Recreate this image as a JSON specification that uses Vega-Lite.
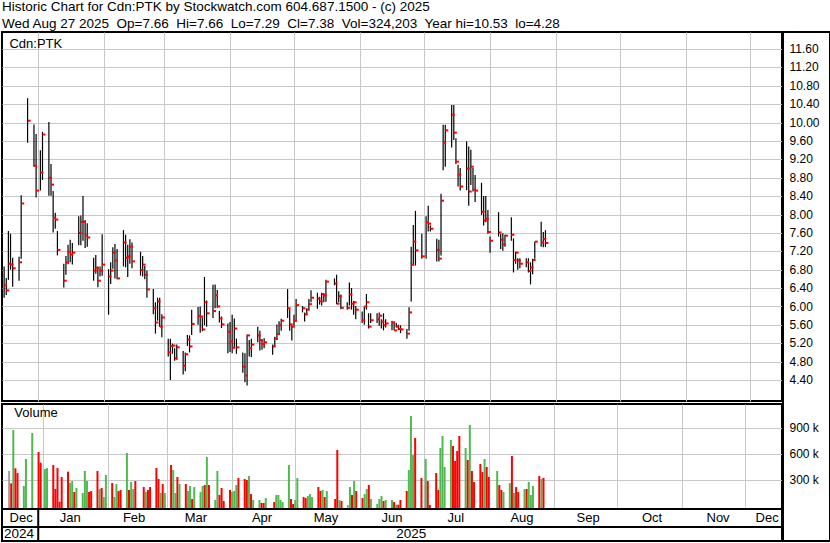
{
"$schema": "https://vega.github.io/schema/vega-lite/v6.json",
"padding": {"left": 1, "top": 0, "right": 0, "bottom": 0},
"background": "white",
"title": {"text": ["Historic Chart for Cdn:PTK by Stockwatch.com 604.687.1500 - (c) 2025", "Wed Aug 27 2025\u00a0 Op=7.66\u00a0 Hi=7.66\u00a0 Lo=7.29\u00a0 Cl=7.38\u00a0 Vol=324,203\u00a0 Year hi=10.53\u00a0 lo=4.28"], "anchor": "start", "frame": "group", "font": "Liberation Sans", "fontSize": 13.5, "fontWeight": "normal", "color": "black", "lineHeight": 16.5, "offset": 2, "dy": 1},
"config": {"view": {"stroke": "black", "strokeWidth": 2}, "text": {"font": "Liberation Sans"}, "axis": {"labelFont": "Liberation Sans"}},
"datasets": {
"one": [{}],
"plab": [{"p":4.4},{"p":4.8},{"p":5.2},{"p":5.6},{"p":6.0},{"p":6.4},{"p":6.8},{"p":7.2},{"p":7.6},{"p":8.0},{"p":8.4},{"p":8.8},{"p":9.2},{"p":9.6},{"p":10.0},{"p":10.4},{"p":10.8},{"p":11.2},{"p":11.6}],
"vlab": [{"v":300000,"lab":"300 k"},{"v":600000,"lab":"600 k"},{"v":900000,"lab":"900 k"}],
"months": [{"m":"Dec","mid":"2024-12-24"},{"m":"Jan","mid":"2025-01-16"},{"m":"Feb","mid":"2025-02-15"},{"m":"Mar","mid":"2025-03-16"},{"m":"Apr","mid":"2025-04-16"},{"m":"May","mid":"2025-05-16"},{"m":"Jun","mid":"2025-06-16"},{"m":"Jul","mid":"2025-07-16"},{"m":"Aug","mid":"2025-08-16"},{"m":"Sep","mid":"2025-09-16"},{"m":"Oct","mid":"2025-10-16"},{"m":"Nov","mid":"2025-11-16"},{"m":"Dec","mid":"2025-12-09"}],
"years": [{"yr":"2024","mid":"2024-12-23"},{"yr":"2025","mid":"2025-06-25"}],
"px": [
{"d":"2024-12-16","h":6.87,"l":6.19,"c":6.46,"v":404000,"dir":"flat"},
{"d":"2024-12-17","h":6.62,"l":6.25,"c":6.35,"v":262000,"dir":"down"},
{"d":"2024-12-18","h":7.64,"l":6.58,"c":6.93,"v":877000,"dir":"up"},
{"d":"2024-12-19","h":7.58,"l":6.80,"c":6.91,"v":435000,"dir":"down"},
{"d":"2024-12-20","h":7.06,"l":6.43,"c":6.83,"v":381000,"dir":"down"},
{"d":"2024-12-23","h":7.08,"l":6.56,"c":6.96,"v":231000,"dir":"up"},
{"d":"2024-12-24","h":8.42,"l":7.04,"c":8.24,"v":542000,"dir":"up"},
{"d":"2024-12-27","h":10.53,"l":9.56,"c":10.04,"v":842000,"dir":"up"},
{"d":"2024-12-30","h":9.96,"l":9.04,"c":9.06,"v":623000,"dir":"down"},
{"d":"2024-12-31","h":9.75,"l":8.37,"c":8.52,"v":500000,"dir":"down"},
{"d":"2025-01-02","h":9.40,"l":8.52,"c":8.91,"v":427000,"dir":"up"},
{"d":"2025-01-03","h":9.80,"l":8.75,"c":9.74,"v":438000,"dir":"up"},
{"d":"2025-01-06","h":10.01,"l":8.41,"c":8.80,"v":473000,"dir":"down"},
{"d":"2025-01-07","h":9.10,"l":8.41,"c":8.65,"v":196000,"dir":"down"},
{"d":"2025-01-08","h":8.51,"l":7.61,"c":7.93,"v":438000,"dir":"down"},
{"d":"2025-01-09","h":8.04,"l":7.69,"c":7.89,"v":50000,"dir":"down"},
{"d":"2025-01-10","h":7.64,"l":7.11,"c":7.23,"v":335000,"dir":"down"},
{"d":"2025-01-13","h":6.93,"l":6.41,"c":6.56,"v":396000,"dir":"down"},
{"d":"2025-01-14","h":7.10,"l":6.69,"c":6.96,"v":265000,"dir":"up"},
{"d":"2025-01-15","h":7.34,"l":6.92,"c":7.19,"v":288000,"dir":"up"},
{"d":"2025-01-16","h":7.45,"l":6.96,"c":7.13,"v":162000,"dir":"down"},
{"d":"2025-01-17","h":7.38,"l":6.91,"c":7.17,"v":208000,"dir":"up"},
{"d":"2025-01-20","h":7.96,"l":7.33,"c":7.60,"v":150000,"dir":"up"},
{"d":"2025-01-21","h":7.98,"l":7.33,"c":7.84,"v":404000,"dir":"up"},
{"d":"2025-01-22","h":8.40,"l":7.43,"c":7.84,"v":288000,"dir":"up"},
{"d":"2025-01-23","h":7.88,"l":7.27,"c":7.54,"v":162000,"dir":"down"},
{"d":"2025-01-24","h":7.81,"l":7.30,"c":7.50,"v":173000,"dir":"down"},
{"d":"2025-01-27","h":7.06,"l":6.56,"c":6.78,"v":404000,"dir":"down"},
{"d":"2025-01-28","h":7.12,"l":6.71,"c":6.84,"v":196000,"dir":"up"},
{"d":"2025-01-29","h":6.87,"l":6.42,"c":6.56,"v":208000,"dir":"down"},
{"d":"2025-01-30","h":6.87,"l":6.65,"c":6.78,"v":104000,"dir":"up"},
{"d":"2025-01-31","h":7.57,"l":6.67,"c":6.91,"v":358000,"dir":"up"},
{"d":"2025-02-03","h":6.81,"l":5.82,"c":6.65,"v":265000,"dir":"down"},
{"d":"2025-02-04","h":6.96,"l":6.49,"c":6.78,"v":104000,"dir":"up"},
{"d":"2025-02-05","h":7.29,"l":6.82,"c":7.17,"v":254000,"dir":"up"},
{"d":"2025-02-06","h":7.36,"l":6.61,"c":7.00,"v":173000,"dir":"down"},
{"d":"2025-02-07","h":7.25,"l":6.59,"c":6.61,"v":185000,"dir":"down"},
{"d":"2025-02-10","h":7.66,"l":6.87,"c":7.39,"v":611000,"dir":"up"},
{"d":"2025-02-11","h":7.56,"l":6.85,"c":7.06,"v":185000,"dir":"down"},
{"d":"2025-02-12","h":7.34,"l":6.64,"c":7.09,"v":277000,"dir":"up"},
{"d":"2025-02-13","h":7.46,"l":6.93,"c":7.30,"v":196000,"dir":"up"},
{"d":"2025-02-14","h":7.39,"l":6.83,"c":6.98,"v":288000,"dir":"down"},
{"d":"2025-02-18","h":7.19,"l":6.67,"c":6.79,"v":219000,"dir":"down"},
{"d":"2025-02-19","h":7.10,"l":6.65,"c":6.91,"v":162000,"dir":"up"},
{"d":"2025-02-20","h":6.88,"l":6.59,"c":6.69,"v":185000,"dir":"down"},
{"d":"2025-02-21","h":6.78,"l":6.19,"c":6.37,"v":219000,"dir":"down"},
{"d":"2025-02-24","h":6.38,"l":5.83,"c":5.96,"v":438000,"dir":"down"},
{"d":"2025-02-25","h":6.09,"l":5.41,"c":5.65,"v":312000,"dir":"down"},
{"d":"2025-02-26","h":6.19,"l":5.69,"c":6.11,"v":150000,"dir":"up"},
{"d":"2025-02-27","h":6.19,"l":5.56,"c":5.56,"v":254000,"dir":"down"},
{"d":"2025-02-28","h":5.83,"l":5.33,"c":5.76,"v":150000,"dir":"up"},
{"d":"2025-03-03","h":5.30,"l":4.91,"c":5.00,"v":473000,"dir":"down"},
{"d":"2025-03-04","h":5.30,"l":4.40,"c":5.14,"v":415000,"dir":"up"},
{"d":"2025-03-05","h":5.19,"l":4.97,"c":5.15,"v":150000,"dir":"up"},
{"d":"2025-03-06","h":5.09,"l":4.82,"c":4.87,"v":335000,"dir":"down"},
{"d":"2025-03-07","h":5.17,"l":4.84,"c":5.11,"v":254000,"dir":"up"},
{"d":"2025-03-10","h":5.03,"l":4.52,"c":4.71,"v":254000,"dir":"down"},
{"d":"2025-03-11","h":5.00,"l":4.59,"c":4.96,"v":173000,"dir":"up"},
{"d":"2025-03-12","h":5.38,"l":5.14,"c":5.28,"v":231000,"dir":"up"},
{"d":"2025-03-13","h":5.37,"l":5.00,"c":5.13,"v":81000,"dir":"down"},
{"d":"2025-03-14","h":5.93,"l":5.38,"c":5.62,"v":219000,"dir":"up"},
{"d":"2025-03-17","h":5.99,"l":5.60,"c":5.79,"v":162000,"dir":"up"},
{"d":"2025-03-18","h":6.00,"l":5.43,"c":5.78,"v":231000,"dir":"up"},
{"d":"2025-03-19","h":5.76,"l":5.46,"c":5.50,"v":242000,"dir":"down"},
{"d":"2025-03-20","h":6.64,"l":5.59,"c":6.09,"v":565000,"dir":"up"},
{"d":"2025-03-21","h":6.13,"l":5.56,"c":5.85,"v":242000,"dir":"down"},
{"d":"2025-03-24","h":6.47,"l":5.75,"c":5.90,"v":69000,"dir":"up"},
{"d":"2025-03-25","h":6.48,"l":5.96,"c":6.24,"v":404000,"dir":"up"},
{"d":"2025-03-26","h":6.36,"l":5.97,"c":6.00,"v":127000,"dir":"down"},
{"d":"2025-03-27","h":5.90,"l":5.65,"c":5.74,"v":208000,"dir":"down"},
{"d":"2025-03-28","h":5.78,"l":5.53,"c":5.61,"v":58000,"dir":"down"},
{"d":"2025-03-31","h":5.63,"l":4.98,"c":5.45,"v":185000,"dir":"down"},
{"d":"2025-04-01","h":5.66,"l":5.01,"c":5.24,"v":162000,"dir":"up"},
{"d":"2025-04-02","h":5.82,"l":4.98,"c":5.10,"v":173000,"dir":"up"},
{"d":"2025-04-03","h":5.74,"l":5.11,"c":5.52,"v":242000,"dir":"up"},
{"d":"2025-04-04","h":5.30,"l":4.97,"c":5.11,"v":323000,"dir":"down"},
{"d":"2025-04-07","h":5.00,"l":4.56,"c":4.69,"v":312000,"dir":"down"},
{"d":"2025-04-08","h":4.98,"l":4.35,"c":4.50,"v":300000,"dir":"down"},
{"d":"2025-04-09","h":5.39,"l":4.28,"c":5.37,"v":346000,"dir":"up"},
{"d":"2025-04-10","h":5.27,"l":4.91,"c":5.09,"v":138000,"dir":"down"},
{"d":"2025-04-11","h":5.30,"l":4.90,"c":5.17,"v":69000,"dir":"up"},
{"d":"2025-04-14","h":5.56,"l":5.22,"c":5.37,"v":69000,"dir":"up"},
{"d":"2025-04-15","h":5.47,"l":5.04,"c":5.27,"v":35000,"dir":"down"},
{"d":"2025-04-16","h":5.27,"l":5.06,"c":5.18,"v":35000,"dir":"down"},
{"d":"2025-04-17","h":5.31,"l":5.09,"c":5.22,"v":92000,"dir":"up"},
{"d":"2025-04-21","h":5.17,"l":4.95,"c":5.13,"v":46000,"dir":"down"},
{"d":"2025-04-22","h":5.34,"l":5.14,"c":5.30,"v":127000,"dir":"up"},
{"d":"2025-04-23","h":5.61,"l":5.27,"c":5.40,"v":127000,"dir":"up"},
{"d":"2025-04-24","h":5.68,"l":5.40,"c":5.59,"v":69000,"dir":"up"},
{"d":"2025-04-25","h":5.73,"l":5.47,"c":5.69,"v":46000,"dir":"up"},
{"d":"2025-04-28","h":6.38,"l":5.75,"c":5.96,"v":473000,"dir":"up"},
{"d":"2025-04-29","h":5.94,"l":5.47,"c":5.61,"v":81000,"dir":"down"},
{"d":"2025-04-30","h":5.59,"l":5.26,"c":5.56,"v":23000,"dir":"down"},
{"d":"2025-05-01","h":5.82,"l":5.58,"c":5.69,"v":69000,"dir":"up"},
{"d":"2025-05-02","h":6.16,"l":5.67,"c":6.03,"v":323000,"dir":"up"},
{"d":"2025-05-05","h":6.01,"l":5.87,"c":5.96,"v":104000,"dir":"down"},
{"d":"2025-05-06","h":5.87,"l":5.67,"c":5.83,"v":92000,"dir":"down"},
{"d":"2025-05-07","h":5.96,"l":5.81,"c":5.93,"v":115000,"dir":"up"},
{"d":"2025-05-08","h":6.16,"l":5.93,"c":6.05,"v":138000,"dir":"up"},
{"d":"2025-05-09","h":6.35,"l":6.09,"c":6.19,"v":104000,"dir":"up"},
{"d":"2025-05-12","h":6.30,"l":5.95,"c":6.17,"v":219000,"dir":"down"},
{"d":"2025-05-13","h":6.21,"l":6.04,"c":6.11,"v":173000,"dir":"down"},
{"d":"2025-05-14","h":6.30,"l":6.02,"c":6.27,"v":185000,"dir":"up"},
{"d":"2025-05-15","h":6.27,"l":6.09,"c":6.24,"v":104000,"dir":"down"},
{"d":"2025-05-16","h":6.58,"l":6.10,"c":6.54,"v":173000,"dir":"up"},
{"d":"2025-05-20","h":6.61,"l":6.46,"c":6.50,"v":81000,"dir":"down"},
{"d":"2025-05-21","h":6.69,"l":6.05,"c":6.06,"v":646000,"dir":"down"},
{"d":"2025-05-22","h":6.33,"l":6.09,"c":6.22,"v":69000,"dir":"up"},
{"d":"2025-05-23","h":6.26,"l":5.94,"c":5.97,"v":58000,"dir":"down"},
{"d":"2025-05-26","h":6.09,"l":5.93,"c":5.97,"v":12000,"dir":"flat"},
{"d":"2025-05-27","h":6.52,"l":6.02,"c":6.26,"v":219000,"dir":"up"},
{"d":"2025-05-28","h":6.40,"l":5.93,"c":6.06,"v":127000,"dir":"down"},
{"d":"2025-05-29","h":6.12,"l":5.82,"c":6.09,"v":288000,"dir":"up"},
{"d":"2025-05-30","h":6.01,"l":5.72,"c":5.93,"v":173000,"dir":"down"},
{"d":"2025-06-02","h":5.89,"l":5.64,"c":5.70,"v":92000,"dir":"down"},
{"d":"2025-06-03","h":6.00,"l":5.60,"c":6.00,"v":138000,"dir":"up"},
{"d":"2025-06-04","h":6.27,"l":5.93,"c":6.09,"v":196000,"dir":"up"},
{"d":"2025-06-05","h":5.85,"l":5.52,"c":5.56,"v":242000,"dir":"down"},
{"d":"2025-06-06","h":5.85,"l":5.64,"c":5.70,"v":81000,"dir":"up"},
{"d":"2025-06-09","h":5.85,"l":5.64,"c":5.72,"v":23000,"dir":"up"},
{"d":"2025-06-10","h":5.87,"l":5.58,"c":5.80,"v":81000,"dir":"up"},
{"d":"2025-06-11","h":5.72,"l":5.52,"c":5.67,"v":115000,"dir":"up"},
{"d":"2025-06-12","h":5.85,"l":5.48,"c":5.59,"v":58000,"dir":"down"},
{"d":"2025-06-13","h":5.72,"l":5.54,"c":5.63,"v":69000,"dir":"up"},
{"d":"2025-06-16","h":5.69,"l":5.48,"c":5.65,"v":69000,"dir":"up"},
{"d":"2025-06-17","h":5.67,"l":5.48,"c":5.48,"v":46000,"dir":"down"},
{"d":"2025-06-18","h":5.64,"l":5.54,"c":5.56,"v":15000,"dir":"up"},
{"d":"2025-06-19","h":5.60,"l":5.49,"c":5.51,"v":15000,"dir":"down"},
{"d":"2025-06-20","h":5.59,"l":5.42,"c":5.50,"v":69000,"dir":"down"},
{"d":"2025-06-23","h":5.51,"l":5.30,"c":5.41,"v":173000,"dir":"down"},
{"d":"2025-06-24","h":5.98,"l":5.47,"c":5.87,"v":415000,"dir":"up"},
{"d":"2025-06-25","h":7.30,"l":6.11,"c":6.91,"v":1038000,"dir":"up"},
{"d":"2025-06-26","h":7.77,"l":6.89,"c":7.41,"v":588000,"dir":"up"},
{"d":"2025-06-27","h":8.08,"l":6.89,"c":7.22,"v":785000,"dir":"down"},
{"d":"2025-06-30","h":7.58,"l":7.04,"c":7.09,"v":323000,"dir":"down"},
{"d":"2025-07-02","h":7.96,"l":7.04,"c":7.83,"v":542000,"dir":"up"},
{"d":"2025-07-03","h":8.19,"l":7.63,"c":7.80,"v":288000,"dir":"down"},
{"d":"2025-07-04","h":7.76,"l":7.63,"c":7.69,"v":12000,"dir":"down"},
{"d":"2025-07-07","h":7.47,"l":6.98,"c":7.23,"v":381000,"dir":"down"},
{"d":"2025-07-08","h":7.45,"l":6.98,"c":7.04,"v":185000,"dir":"down"},
{"d":"2025-07-09","h":8.45,"l":7.11,"c":8.30,"v":669000,"dir":"up"},
{"d":"2025-07-10","h":9.95,"l":8.96,"c":9.56,"v":808000,"dir":"up"},
{"d":"2025-07-11","h":9.95,"l":9.04,"c":9.83,"v":450000,"dir":"up"},
{"d":"2025-07-14","h":10.38,"l":9.46,"c":10.17,"v":762000,"dir":"up"},
{"d":"2025-07-15","h":10.38,"l":9.62,"c":9.78,"v":692000,"dir":"down"},
{"d":"2025-07-16","h":9.66,"l":9.10,"c":9.15,"v":519000,"dir":"down"},
{"d":"2025-07-17","h":9.08,"l":8.61,"c":8.87,"v":635000,"dir":"down"},
{"d":"2025-07-18","h":9.01,"l":8.52,"c":8.61,"v":808000,"dir":"down"},
{"d":"2025-07-21","h":9.59,"l":8.53,"c":9.00,"v":669000,"dir":"up"},
{"d":"2025-07-22","h":9.48,"l":8.19,"c":8.50,"v":531000,"dir":"down"},
{"d":"2025-07-23","h":9.41,"l":8.64,"c":9.04,"v":935000,"dir":"up"},
{"d":"2025-07-24","h":9.01,"l":8.50,"c":8.54,"v":404000,"dir":"down"},
{"d":"2025-07-25","h":8.86,"l":8.27,"c":8.52,"v":277000,"dir":"down"},
{"d":"2025-07-28","h":8.69,"l":7.99,"c":8.06,"v":485000,"dir":"down"},
{"d":"2025-07-29","h":8.40,"l":7.76,"c":7.87,"v":392000,"dir":"down"},
{"d":"2025-07-30","h":8.40,"l":7.83,"c":7.91,"v":542000,"dir":"up"},
{"d":"2025-07-31","h":8.10,"l":7.58,"c":7.62,"v":450000,"dir":"down"},
{"d":"2025-08-01","h":7.52,"l":7.17,"c":7.43,"v":335000,"dir":"down"},
{"d":"2025-08-05","h":8.05,"l":7.52,"c":7.61,"v":404000,"dir":"up"},
{"d":"2025-08-06","h":7.58,"l":7.25,"c":7.45,"v":242000,"dir":"down"},
{"d":"2025-08-07","h":7.59,"l":7.21,"c":7.35,"v":185000,"dir":"down"},
{"d":"2025-08-08","h":7.56,"l":7.30,"c":7.54,"v":162000,"dir":"up"},
{"d":"2025-08-11","h":7.94,"l":7.43,"c":7.56,"v":265000,"dir":"up"},
{"d":"2025-08-12","h":7.48,"l":6.74,"c":7.01,"v":577000,"dir":"down"},
{"d":"2025-08-13","h":7.19,"l":6.93,"c":7.17,"v":150000,"dir":"up"},
{"d":"2025-08-14","h":7.05,"l":6.80,"c":7.00,"v":219000,"dir":"down"},
{"d":"2025-08-15","h":7.05,"l":6.83,"c":6.93,"v":162000,"dir":"down"},
{"d":"2025-08-18","h":7.05,"l":6.85,"c":6.96,"v":196000,"dir":"up"},
{"d":"2025-08-19","h":7.05,"l":6.74,"c":6.77,"v":196000,"dir":"down"},
{"d":"2025-08-20","h":6.96,"l":6.48,"c":6.85,"v":277000,"dir":"up"},
{"d":"2025-08-21","h":7.04,"l":6.70,"c":7.01,"v":127000,"dir":"up"},
{"d":"2025-08-22","h":7.41,"l":7.04,"c":7.41,"v":231000,"dir":"up"},
{"d":"2025-08-25","h":7.84,"l":7.30,"c":7.39,"v":346000,"dir":"down"},
{"d":"2025-08-26","h":7.62,"l":7.29,"c":7.47,"v":312000,"dir":"up"},
{"d":"2025-08-27","h":7.66,"l":7.29,"c":7.38,"v":324203,"dir":"down"}
]
},
"bounds": "full",
"spacing": -2,
"hconcat": [
{
"bounds": "flush",
"spacing": 3,
"vconcat": [
{
"width": 780, "height": 369,
"layer": [
{"data": {"name": "px"}, "mark": {"type": "rule", "color": "black", "strokeWidth": 1.2}, "encoding": {"x": {"field": "d", "type": "temporal", "scale": {"type": "utc", "domain": [{"year":2024,"month":12,"date":15,"utc":true},{"year":2025,"month":12,"date":16,"utc":true}]}, "axis": {"values": [{"year":2025,"month":1,"date":1,"utc":true},{"year":2025,"month":2,"date":1,"utc":true},{"year":2025,"month":3,"date":1,"utc":true},{"year":2025,"month":4,"date":1,"utc":true},{"year":2025,"month":5,"date":1,"utc":true},{"year":2025,"month":6,"date":1,"utc":true},{"year":2025,"month":7,"date":1,"utc":true},{"year":2025,"month":8,"date":1,"utc":true},{"year":2025,"month":9,"date":1,"utc":true},{"year":2025,"month":10,"date":1,"utc":true},{"year":2025,"month":11,"date":1,"utc":true},{"year":2025,"month":12,"date":1,"utc":true}], "tickCount": 100, "grid": true, "gridColor": "#c8c8c8", "labels": false, "ticks": false, "domain": false, "title": null, "minExtent": 0, "maxExtent": 0}}, "y": {"field": "l", "type": "quantitative", "scale": {"domain": [3.9435, 11.9696], "zero": false, "nice": false}, "axis": {"orient": "right", "values": [4.4,4.8,5.2,5.6,6,6.4,6.8,7.2,7.6,8,8.4,8.8,9.2,9.6,10,10.4,10.8,11.2,11.6], "tickCount": 100, "grid": true, "gridColor": "#c8c8c8", "labels": false, "ticks": false, "domain": false, "title": null, "minExtent": 0, "maxExtent": 0}}, "y2": {"field": "h"}}},
{"data": {"name": "px"}, "mark": {"type": "tick", "orient": "horizontal", "color": "#ff0000", "size": 3, "thickness": 2, "xOffset": 1.5, "opacity": 1}, "encoding": {"x": {"field": "d", "type": "temporal"}, "y": {"field": "c", "type": "quantitative"}}},
{"data": {"name": "one"}, "mark": {"type": "text", "text": "Cdn:PTK", "align": "left", "baseline": "middle", "fontSize": 13, "color": "black"}, "encoding": {"x": {"datum": {"year":2024,"month":12,"date":18,"hours":12,"utc":true}}, "y": {"datum": 11.71}}}
]
},
{
"bounds": "flush",
"spacing": 0,
"vconcat": [
{
"width": 780, "height": 105,
"layer": [
{"data": {"name": "px"}, "mark": {"type": "bar", "width": 2}, "encoding": {"x": {"field": "d", "type": "temporal", "scale": {"type": "utc", "domain": [{"year":2024,"month":12,"date":15,"utc":true},{"year":2025,"month":12,"date":16,"utc":true}]}, "axis": {"values": [{"year":2025,"month":1,"date":1,"utc":true},{"year":2025,"month":2,"date":1,"utc":true},{"year":2025,"month":3,"date":1,"utc":true},{"year":2025,"month":4,"date":1,"utc":true},{"year":2025,"month":5,"date":1,"utc":true},{"year":2025,"month":6,"date":1,"utc":true},{"year":2025,"month":7,"date":1,"utc":true},{"year":2025,"month":8,"date":1,"utc":true},{"year":2025,"month":9,"date":1,"utc":true},{"year":2025,"month":10,"date":1,"utc":true},{"year":2025,"month":11,"date":1,"utc":true},{"year":2025,"month":12,"date":1,"utc":true}], "tickCount": 100, "grid": true, "gridColor": "#c8c8c8", "labels": false, "ticks": false, "domain": false, "title": null, "minExtent": 0, "maxExtent": 0}}, "y": {"field": "v", "type": "quantitative", "scale": {"domain": [-34600, 1176900], "zero": false, "nice": false}, "axis": {"orient": "right", "values": [300000, 600000, 900000], "tickCount": 100, "grid": true, "gridColor": "#c8c8c8", "labels": false, "ticks": false, "domain": false, "title": null, "minExtent": 0, "maxExtent": 0}}, "y2": {"datum": -34600}, "color": {"field": "dir", "type": "nominal", "scale": {"domain": ["up", "down", "flat"], "range": ["#50b850", "#ff0000", "#a0a0a0"]}, "legend": null}}},
{"data": {"name": "one"}, "mark": {"type": "text", "text": "Volume", "align": "left", "baseline": "middle", "fontSize": 13, "color": "black"}, "encoding": {"x": {"datum": {"year":2024,"month":12,"date":18,"hours":12,"utc":true}}, "y": {"datum": 1073000}}}
]
},
{
"width": 780, "height": 18,
"layer": [
{"data": {"name": "months"}, "mark": {"type": "text", "fontSize": 13, "baseline": "middle", "align": "center", "color": "black"}, "encoding": {"x": {"field": "mid", "type": "temporal", "scale": {"type": "utc", "domain": [{"year":2024,"month":12,"date":15,"utc":true},{"year":2025,"month":12,"date":16,"utc":true}]}, "axis": null}, "text": {"field": "m", "type": "nominal"}}},
{"data": {"name": "one"}, "mark": {"type": "rule", "color": "black", "strokeWidth": 2}, "encoding": {"x": {"datum": {"year":2025,"month":1,"date":1,"utc":true}, "axis": null}}}
]
},
{
"width": 780, "height": 14,
"layer": [
{"data": {"name": "years"}, "mark": {"type": "text", "fontSize": 13.5, "baseline": "middle", "align": "center", "color": "black"}, "encoding": {"x": {"field": "mid", "type": "temporal", "scale": {"type": "utc", "domain": [{"year":2024,"month":12,"date":15,"utc":true},{"year":2025,"month":12,"date":16,"utc":true}]}, "axis": null}, "text": {"field": "yr", "type": "nominal"}}},
{"data": {"name": "one"}, "mark": {"type": "rule", "color": "black", "strokeWidth": 2}, "encoding": {"x": {"datum": {"year":2025,"month":1,"date":1,"utc":true}, "axis": null}}}
]
}
]
}
]
},
{
"width": 47, "height": 509,
"resolve": {"scale": {"y": "independent"}},
"layer": [
{"data": {"name": "plab"}, "mark": {"type": "text", "align": "left", "baseline": "middle", "fontSize": 12, "color": "black", "dx": -17}, "encoding": {"y": {"field": "p", "type": "quantitative", "scale": {"domain": [0.9044, 11.9696], "zero": false, "nice": false}, "axis": null}, "text": {"field": "p", "type": "quantitative", "format": ".2f"}}},
{"data": {"name": "vlab"}, "mark": {"type": "text", "align": "left", "baseline": "middle", "fontSize": 12, "color": "black", "dx": -17}, "encoding": {"y": {"field": "v", "type": "quantitative", "scale": {"domain": [-403816, 5469000], "zero": false, "nice": false}, "axis": null}, "text": {"field": "lab", "type": "nominal"}}}
]
}
]
}
